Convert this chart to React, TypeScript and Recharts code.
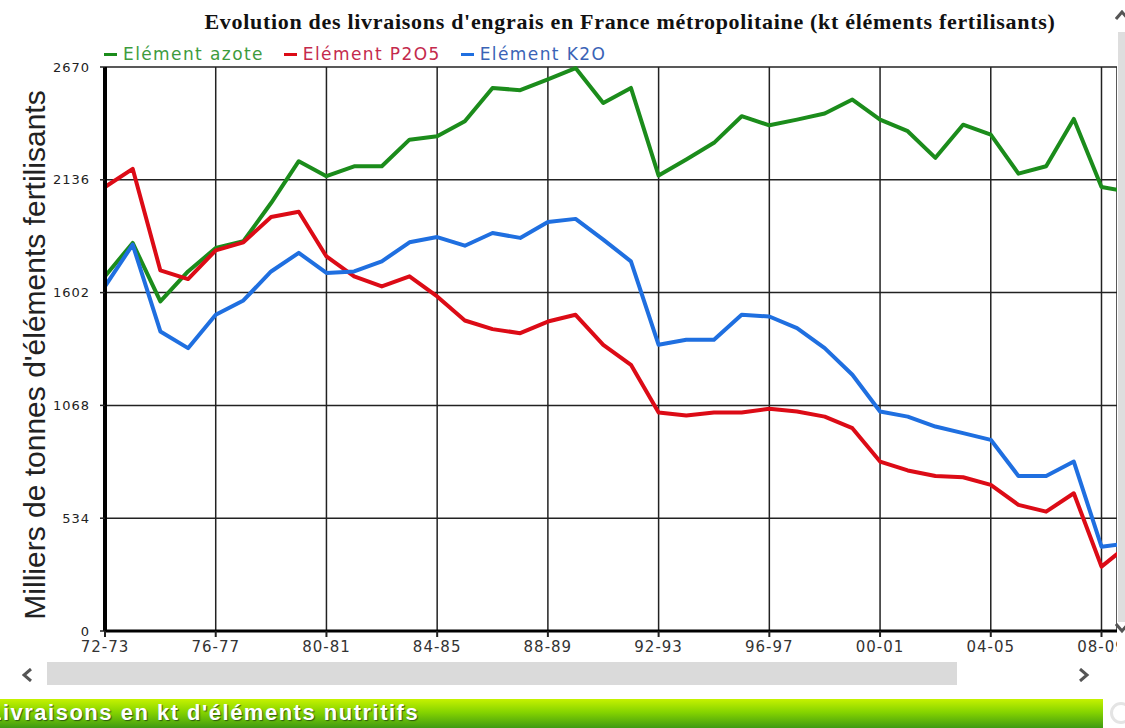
import React from "react";
import { LineChart, Line, XAxis, YAxis, CartesianGrid, Legend } from "recharts";

// Livraisons d'engrais, France métropolitaine (kt éléments fertilisants)
const seasons = [
  "72-73", "73-74", "74-75", "75-76", "76-77", "77-78", "78-79", "79-80",
  "80-81", "81-82", "82-83", "83-84", "84-85", "85-86", "86-87", "87-88",
  "88-89", "89-90", "90-91", "91-92", "92-93", "93-94", "94-95", "95-96",
  "96-97", "97-98", "98-99", "99-00", "00-01", "01-02", "02-03", "03-04",
  "04-05", "05-06", "06-07", "07-08", "08-09", "09-10"
];

const azote = [
  1679, 1837, 1560, 1702, 1813, 1845, 2026, 2224, 2153, 2200, 2200, 2326, 2342,
  2413, 2571, 2560, 2611, 2665, 2500, 2571, 2156, 2232, 2311, 2437, 2394, 2421,
  2450, 2516, 2421, 2366, 2240, 2397, 2350, 2165, 2200, 2424, 2102, 2078
];

const p2o5 = [
  2102, 2188, 1707, 1666, 1802, 1840, 1960, 1985, 1773, 1679, 1631, 1679, 1584,
  1470, 1429, 1410, 1465, 1497, 1355, 1260, 1034, 1020, 1034, 1034, 1052, 1039,
  1015, 960, 802, 760, 734, 728, 692, 597, 565, 652, 305, 410
];

const k2o = [
  1631, 1829, 1418, 1339, 1497, 1565, 1702, 1790, 1695, 1702, 1750, 1840, 1865,
  1824, 1884, 1861, 1936, 1951, 1853, 1750, 1355, 1379, 1379, 1497, 1489, 1434,
  1339, 1213, 1039, 1015, 968, 937, 905, 734, 734, 802, 399, 415
];

const xTicks = [0, 4, 8, 12, 16, 20, 24, 28, 32, 36];
const yTicks = [0, 534, 1068, 1602, 2136, 2670];

const series = [
  { key: "azote", name: "Elément azote", color: "#1b8c1b", text: "#3d9b3d" },
  { key: "p2o5", name: "Elément P2O5", color: "#dc0b16", text: "#c42a4c" },
  { key: "k2o", name: "Elément K2O", color: "#1f6fe0", text: "#3a63b6" }
];

const data = seasons.map((s, i) => ({
  i,
  season: s,
  azote: azote[i],
  p2o5: p2o5[i],
  k2o: k2o[i]
}));

const sans = "'DejaVu Sans', Verdana, sans-serif";

function LegendRow() {
  return (
    <div style={{ display: "flex", fontFamily: sans, fontSize: 17, letterSpacing: 1.4, lineHeight: "20px" }}>
      {series.map((s) => (
        <div key={s.key} style={{ display: "flex", alignItems: "center", marginRight: 20, color: s.text }}>
          <span style={{ display: "inline-block", width: 13, height: 3, background: s.color, marginRight: 6 }} />
          {s.name}
        </div>
      ))}
    </div>
  );
}

// rotated axis title, placed from the axis viewBox
function YTitle({ viewBox }: { viewBox?: { x: number; y: number; width: number; height: number } }) {
  if (!viewBox) return null;
  const x = viewBox.x + 19;
  const y = viewBox.y + viewBox.height / 2 + 6;
  return (
    <text
      x={x}
      y={y}
      transform={`rotate(-90 ${x} ${y})`}
      textAnchor="middle"
      dominantBaseline="central"
      fontFamily="'Liberation Sans', Arial, sans-serif"
      fontSize={30}
      fill="#222"
    >
      Milliers de tonnes d'éléments fertilisants
    </text>
  );
}

function Chevron({ x, y, dir }: { x: number; y: number; dir: "left" | "right" | "up" | "down" }) {
  const pts = {
    left: "9,1 2,7 9,13",
    right: "2,1 9,7 2,13",
    up: "1,9 7,2 13,9",
    down: "1,2 7,9 13,2"
  }[dir];
  return (
    <svg width={14} height={14} style={{ position: "absolute", left: x, top: y }}>
      <polyline points={pts} fill="none" stroke="#555" strokeWidth={3} />
    </svg>
  );
}

export default function App() {
  return (
    <div style={{ position: "absolute", left: 0, top: 0, width: 1125, height: 728, overflow: "hidden", background: "#fff" }}>
      {/* title */}
      <div
        style={{
          position: "absolute", left: 130, top: 9, width: 1000, textAlign: "center",
          fontFamily: "'Liberation Serif', 'Times New Roman', serif", fontWeight: "bold",
          fontSize: 22, letterSpacing: 0.7, lineHeight: "25px", color: "#111"
        }}
      >
        Evolution des livraisons d'engrais en France métropolitaine (kt éléments fertilisants)
      </div>

      <div style={{ position: "absolute", left: 0, top: 0, width: 1117, height: 700, overflow: "hidden" }}>
        <LineChart width={1125} height={728} data={data} margin={{ top: 67, right: 8, bottom: 67, left: 15 }}>
          <CartesianGrid stroke="#222" strokeWidth={1.5} />
          <XAxis
            dataKey="i"
            type="number"
            domain={[0, 36.56]}
            allowDataOverflow
            ticks={xTicks}
            interval={0}
            tickFormatter={(v) => seasons[v]}
            height={30}
            axisLine={{ stroke: "#000", strokeWidth: 3 }}
            tickLine={{ stroke: "#222", strokeWidth: 2 }}
            tickSize={6}
            tickMargin={4}
            tick={{ fill: "#333", fontSize: 15, fontFamily: sans, letterSpacing: 1 }}
          />
          <YAxis
            domain={[0, 2670]}
            ticks={yTicks}
            interval={0}
            width={90}
            axisLine={{ stroke: "#000", strokeWidth: 4 }}
            tickLine={{ stroke: "#222", strokeWidth: 1.5 }}
            tickSize={5}
            tickMargin={10}
            tick={{ fill: "#222", fontSize: 13, fontFamily: sans, letterSpacing: 1 }}
            label={<YTitle />}
          />
          <Legend
            layout="vertical"
            align="center"
            verticalAlign="middle"
            wrapperStyle={{ top: 44, left: 104, width: 700, height: 22 }}
            content={() => <LegendRow />}
          />
          {series.map((s) => (
            <Line
              key={s.key}
              type="linear"
              dataKey={s.key}
              name={s.name}
              stroke={s.color}
              strokeWidth={4}
              strokeLinejoin="round"
              dot={false}
              activeDot={false}
              isAnimationActive={false}
            />
          ))}
        </LineChart>
      </div>

      {/* right scroll strip */}
      <Chevron x={1115} y={10} dir="up" />
      <div style={{ position: "absolute", left: 1118, top: 32, width: 7, height: 590, background: "#dedede" }} />
      <Chevron x={1115} y={622} dir="down" />

      {/* horizontal scroll bar */}
      <Chevron x={22} y={668} dir="left" />
      <div style={{ position: "absolute", left: 47, top: 662, width: 910, height: 23, background: "#dadada" }} />
      <Chevron x={1078} y={668} dir="right" />

      {/* green panel header */}
      <div
        style={{
          position: "absolute", left: 0, top: 699, width: 1103, height: 29, overflow: "hidden",
          background: "linear-gradient(#c6f200, #86d400 45%, #3f9a12)"
        }}
      >
        <div
          style={{
            position: "absolute", left: -12, top: 1, whiteSpace: "nowrap",
            fontFamily: "'Liberation Sans', Arial, sans-serif", fontWeight: "bold", fontSize: 22,
            letterSpacing: 1.5, color: "#fff", textShadow: "1px 1px 1px #2d5a10"
          }}
        >
          Livraisons en kt d'éléments nutritifs
        </div>
      </div>
      <div style={{ position: "absolute", left: 1110, top: 702, width: 22, height: 22, borderRadius: 11, border: "3px solid #e4e4e4", boxSizing: "border-box" }} />
    </div>
  );
}
